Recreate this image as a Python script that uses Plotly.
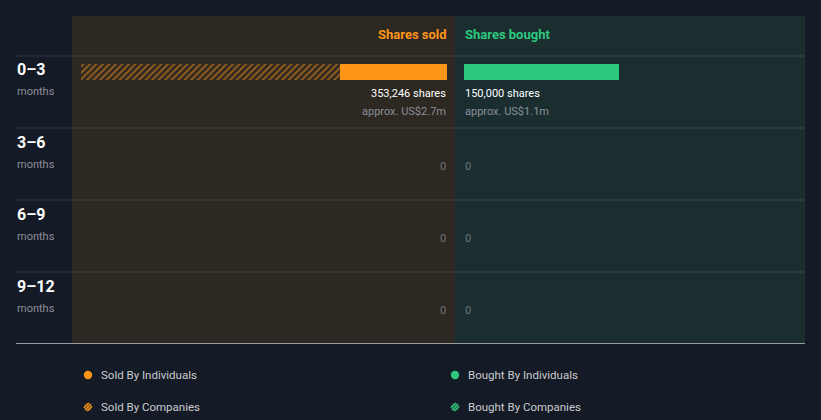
import math
import plotly.graph_objects as go

# ---------------- data ----------------
periods = ["0–3", "3–6", "6–9", "9–12"]
period_unit = "months"
sold_individuals = [103246, 0, 0, 0]
sold_companies = [250000, 0, 0, 0]
bought_individuals = [150000, 0, 0, 0]
bought_companies = [0, 0, 0, 0]
sold_value_label = ["approx. US$2.7m", "", "", ""]
bought_value_label = ["approx. US$1.1m", "", "", ""]
legend_labels = ["Sold By Individuals", "Sold By Companies",
                 "Bought By Individuals", "Bought By Companies"]

# ---------------- style ----------------
W, H = 821, 420
BG = "#151b26"
SOLD_BG = "#2d2822"
BOUGHT_BG = "#1a2e30"
ORANGE = "#fd9519"
GREEN = "#2ec97f"
GRAY = "#8b8f96"
FONT = "Roboto"


def px(x):
    return x / W


def py(y):
    return 1 - y / H


sold_tot = [a + b for a, b in zip(sold_individuals, sold_companies)]
bought_tot = [a + b for a, b in zip(bought_individuals, bought_companies)]
max_tot = max(max(sold_tot), max(bought_tot))

L, MID, R = 72, 455, 805
PAD = 8.5
per_px = max_tot / (MID - L - 2 * PAD)
sold_range = [(MID - PAD - L) * per_px, -PAD * per_px]
bought_range = [-PAD * per_px, (R - MID - PAD) * per_px]

ROW_TOP, ROW_H = 56, 72
bar_off = -0.5 + 8 / ROW_H
bar_w = 16 / ROW_H
ys = list(range(len(periods)))

hatch = dict(shape="/", bgcolor="rgba(0,0,0,0)", size=4.6, solidity=0.4)

fig = go.Figure()
fig.add_trace(go.Bar(y=ys, x=sold_individuals, orientation="h", xaxis="x", yaxis="y",
                     marker=dict(color=ORANGE, line=dict(width=0)),
                     width=bar_w, offset=bar_off, showlegend=False, hoverinfo="skip"))
fig.add_trace(go.Bar(y=ys, x=sold_companies, orientation="h", xaxis="x", yaxis="y",
                     marker=dict(color="rgba(0,0,0,0)", line=dict(width=0),
                                 pattern=dict(fgcolor=ORANGE, **hatch)),
                     width=bar_w, offset=bar_off, showlegend=False, hoverinfo="skip"))
fig.add_trace(go.Bar(y=ys, x=bought_individuals, orientation="h", xaxis="x2", yaxis="y",
                     marker=dict(color=GREEN, line=dict(width=0)),
                     width=bar_w, offset=bar_off, showlegend=False, hoverinfo="skip"))
fig.add_trace(go.Bar(y=ys, x=bought_companies, orientation="h", xaxis="x2", yaxis="y",
                     marker=dict(color="rgba(0,0,0,0)", line=dict(width=0),
                                 pattern=dict(fgcolor=GREEN, **hatch)),
                     width=bar_w, offset=bar_off, showlegend=False, hoverinfo="skip"))

shapes = [
    dict(type="rect", xref="paper", yref="paper", x0=px(L), x1=px(MID), y0=py(344), y1=py(16),
         fillcolor=SOLD_BG, line=dict(width=0), layer="below"),
    dict(type="rect", xref="paper", yref="paper", x0=px(MID), x1=px(R), y0=py(344), y1=py(16),
         fillcolor=BOUGHT_BG, line=dict(width=0), layer="below"),
]
for i in range(len(periods)):
    yy = ROW_TOP + i * ROW_H
    shapes.append(dict(type="line", xref="paper", yref="paper", x0=px(16), x1=px(R),
                       y0=py(yy), y1=py(yy), line=dict(color="rgba(255,255,255,0.12)", width=1),
                       layer="below"))
shapes.append(dict(type="line", xref="paper", yref="paper", x0=px(16), x1=px(R),
                   y0=py(343.5), y1=py(343.5), line=dict(color="#9a9ca0", width=1)))


def ann(**kw):
    kw.setdefault("showarrow", False)
    kw.setdefault("borderpad", 0)
    kw.setdefault("yanchor", "middle")
    return kw


annotations = [
    ann(text="<b>Shares sold</b>", xref="x", x=0, xanchor="right", xshift=1, yref="paper", y=py(34),
        font=dict(family=FONT, size=13, color=ORANGE)),
    ann(text="<b>Shares bought</b>", xref="x2", x=0, xanchor="left", yref="paper", y=py(34),
        font=dict(family=FONT, size=13, color=GREEN)),
]

for i, p in enumerate(periods):
    annotations.append(ann(text="<b>%s</b>" % p, xref="paper", x=px(16), xanchor="left",
                           yref="y", y=i + (70 - ROW_TOP) / ROW_H - 0.5,
                           font=dict(family=FONT, size=16, color="#ffffff")))
    annotations.append(ann(text=period_unit, xref="paper", x=px(16), xanchor="left",
                           yref="y", y=i + (92 - ROW_TOP) / ROW_H - 0.5,
                           font=dict(family=FONT, size=11, color=GRAY)))
    for tot, vlab, xr, anc in [(sold_tot[i], sold_value_label[i], "x", "right"),
                               (bought_tot[i], bought_value_label[i], "x2", "left")]:
        if tot > 0:
            annotations.append(ann(text="{:,} shares".format(tot), xref=xr, x=0, xanchor=anc,
                                   yref="y", y=i + (94 - ROW_TOP) / ROW_H - 0.5,
                                   font=dict(family=FONT, size=11, color="#ffffff")))
            annotations.append(ann(text=vlab, xref=xr, x=0, xanchor=anc,
                                   yref="y", y=i + (112 - ROW_TOP) / ROW_H - 0.5,
                                   font=dict(family=FONT, size=11, color=GRAY)))
        else:
            annotations.append(ann(text="0", xref=xr, x=0, xanchor=anc,
                                   yref="y", y=i + 0.03,
                                   font=dict(family=FONT, size=11, color="#6f7378")))

# legend (manual)
leg_pos = [(88, 375, ORANGE, False), (88, 407, ORANGE, True),
           (455, 375, GREEN, False), (455, 407, GREEN, True)]
for (cx, cy, col, hatched), lab in zip(leg_pos, legend_labels):
    r = 4.2
    if not hatched:
        shapes.append(dict(type="circle", xref="paper", yref="paper", x0=px(cx - r), x1=px(cx + r),
                           y0=py(cy + r), y1=py(cy - r), fillcolor=col, line=dict(width=0)))
    else:
        shapes.append(dict(type="circle", xref="paper", yref="paper", x0=px(cx - r), x1=px(cx + r),
                           y0=py(cy + r), y1=py(cy - r),
                           fillcolor="#4a3a22" if col == ORANGE else "#1f4a3a", line=dict(width=0)))
        for d in (-2.3, 0.0, 2.3):
            mx = cx + d * 0.707
            my = cy + d * 0.707
            h = math.sqrt(max(r * r - d * d, 0)) * 0.707
            shapes.append(dict(type="line", xref="paper", yref="paper",
                               x0=px(mx - h), x1=px(mx + h), y0=py(my + h), y1=py(my - h),
                               line=dict(color=col, width=1.4)))
    annotations.append(ann(text=lab, xref="paper", x=px(cx + 12), xanchor="left",
                           yref="paper", y=py(cy),
                           font=dict(family=FONT, size=11.5, color="#c9cbcf")))

fig.update_layout(
    width=W, height=H,
    margin=dict(l=0, r=0, t=0, b=0),
    paper_bgcolor=BG, plot_bgcolor="rgba(0,0,0,0)",
    barmode="stack", bargap=0,
    xaxis=dict(domain=[px(L), px(MID)], range=sold_range, visible=False, fixedrange=True),
    xaxis2=dict(domain=[px(MID), px(R)], range=bought_range, visible=False, fixedrange=True,
                anchor="y"),
    yaxis=dict(domain=[py(344), py(ROW_TOP)], range=[len(periods) - 0.5, -0.5], visible=False,
               fixedrange=True),
    shapes=shapes, annotations=annotations,
    showlegend=False, hovermode=False,
    font=dict(family=FONT),
)

fig.write_html("out.html", config={"displayModeBar": False},
               post_script="document.body.style.margin='0';document.body.style.overflow='hidden';")
